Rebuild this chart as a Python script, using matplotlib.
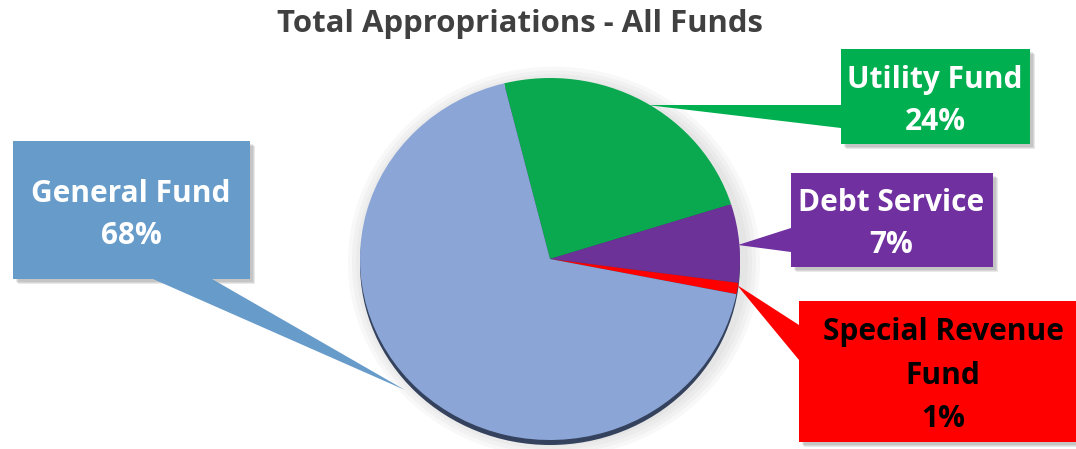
import matplotlib.pyplot as plt
from matplotlib.patches import Rectangle, Polygon, Ellipse

# chart data
funds = ["Utility Fund", "Debt Service", "Special Revenue Fund", "General Fund"]
shares = [24, 7, 1, 68]
slice_colors = ["#0aa84f", "#6d3297", "#ff0000", "#8ba6d6"]
box_colors = ["#00b050", "#7030a0", "#ff0000", "#679cca"]
text_colors = ["white", "white", "black", "white"]
label_lines = [["Utility Fund", "24%"],
               ["Debt Service", "7%"],
               ["Special Revenue", "Fund", "1%"],
               ["General Fund", "68%"]]
title = "Total Appropriations - All Funds"

W, H = 1076, 449
FONT = "Open Sans"

# callout layout in pixel coords (x0, y0, x1, y1), pointer (base1, base2, tip), text x, first baseline, pitch
boxes = [(841, 49, 1030, 144), (791, 173, 993, 267), (799, 301, 1080, 442), (13, 141, 250, 279)]
pointers = [[(841, 105), (841, 128), (647, 105)],
            [(791, 228), (791, 252), (738, 245)],
            [(799, 325), (799, 360), (737, 285)],
            [(153, 279), (212, 279), (405, 390)]]
text_pos = [(935, 88, 42), (891, 211, 42), (943, 340, 43.5), (131, 202, 42)]

fig = plt.figure(figsize=(W / 100, H / 100), dpi=100)

# pie axes: x in pixels, y stretched so the circle becomes a slight ellipse
sy = 181 / 190
pax = fig.add_axes([0, 0, 1, 1])
cx, cy = 550, (H - 259) / sy

# soft shadow and dark rim behind the pie
for i, a in enumerate([0.05, 0.05, 0.05, 0.05]):
    pax.add_patch(Ellipse((cx + 4, cy - 3 / sy), 2 * (190 + 4 + 4 * i), 2 * (190 + 3 + 4 * i),
                          color="#7f7f7f", alpha=a, lw=0, zorder=0))
pax.add_patch(Ellipse((cx, cy - 5 / sy), 380, 380, color="#34425e", lw=0, zorder=1))

wedges, _ = pax.pie(shares, colors=slice_colors, startangle=104, counterclock=False,
                    center=(cx, cy), radius=190, wedgeprops=dict(linewidth=0))
for w in wedges:
    w.set_zorder(2)
pax.set_xlim(0, W)
pax.set_ylim(0, H / sy)
pax.set_aspect("auto")
pax.axis("off")

# overlay axes in pixel coords for callouts and title
ax = fig.add_axes([0, 0, 1, 1])
ax.set_xlim(0, W)
ax.set_ylim(H, 0)
ax.axis("off")
ax.patch.set_visible(False)

for i, name in enumerate(funds):
    x0, y0, x1, y1 = boxes[i]
    for k in range(3):
        ax.add_patch(Rectangle((x0 + 3 + k, y0 + 3 + k), x1 - x0, y1 - y0,
                               color="#505050", alpha=0.12, lw=0, zorder=1))
    ax.add_patch(Polygon(pointers[i], closed=True, color=box_colors[i], lw=0, zorder=2))
    ax.add_patch(Rectangle((x0, y0), x1 - x0, y1 - y0, color=box_colors[i], lw=0, zorder=3))
    tx, ty, pitch = text_pos[i]
    for j, line in enumerate(label_lines[i]):
        ax.text(tx, ty + j * pitch, line, ha="center", va="baseline", color=text_colors[i],
                fontsize=21.5, fontweight="bold", family=FONT, zorder=4)

ax.text(520, 32, title, ha="center", va="baseline", color="#404040",
        fontsize=22.4, fontweight="bold", family=FONT)

fig.savefig("out.png", dpi=100)
